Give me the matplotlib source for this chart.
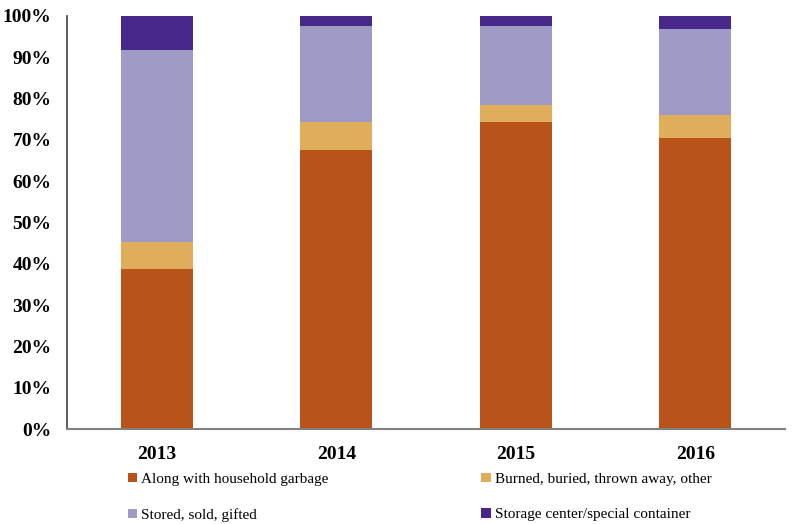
import numpy as np
import matplotlib.pyplot as plt
from matplotlib.ticker import PercentFormatter

# Data (share of respondents, %)
years = ['2013', '2014', '2015', '2016']
household = [38.7, 67.5, 74.3, 70.5]
burned = [6.5, 6.8, 4.0, 5.5]
stored = [46.5, 23.3, 19.3, 20.7]
storage = [8.3, 2.4, 2.4, 3.3]

labels = ['Along with household garbage', 'Burned, buried, thrown away, other',
          'Stored, sold, gifted', 'Storage center/special container']
colors = ['#B8541A', '#E0AE5A', '#A09AC6', '#47288A']

plt.rcParams['font.family'] = ['Liberation Serif', 'DejaVu Serif']

fig = plt.figure(figsize=(7.97, 5.24), dpi=100)
ax = fig.add_axes([0.084, 0.181, 0.901, 0.789])

x = np.arange(len(years))
bottom = np.zeros(len(years))
bars = []
for vals, lab, col in zip([household, burned, stored, storage], labels, colors):
    b = ax.bar(x, vals, 0.4, bottom=bottom, color=col, label=lab)
    bars.append(b)
    bottom += np.array(vals)

ax.set_xlim(-0.5, 3.5)
ax.set_ylim(0, 100)
ax.set_yticks(np.arange(0, 101, 10))
ax.yaxis.set_major_formatter(PercentFormatter(decimals=0))
ax.set_xticks(x)
ax.set_xticklabels(years)
for t in ax.get_xticklabels() + ax.get_yticklabels():
    t.set_fontweight('bold')
    t.set_fontsize(14)
ax.tick_params(length=0)
ax.tick_params(axis='y', pad=11)
ax.tick_params(axis='x', pad=12)

for s in ['top', 'right']:
    ax.spines[s].set_visible(False)
ax.spines['left'].set_color('#404040')
ax.spines['bottom'].set_color('#808080')
ax.spines['left'].set_linewidth(1.2)
ax.spines['bottom'].set_linewidth(1.5)

# legend order so columns read row-wise
order = [0, 2, 1, 3]
fig.legend([bars[i] for i in order], [labels[i] for i in order],
           ncol=2, loc='upper left', bbox_to_anchor=(0.160, 0.098),
           frameon=False, fontsize=11, handlelength=0.6, handleheight=0.6,
           handletextpad=0.3, columnspacing=10.0, labelspacing=1.45,
           borderaxespad=0, borderpad=0)

fig.savefig('out.png', dpi=100)
